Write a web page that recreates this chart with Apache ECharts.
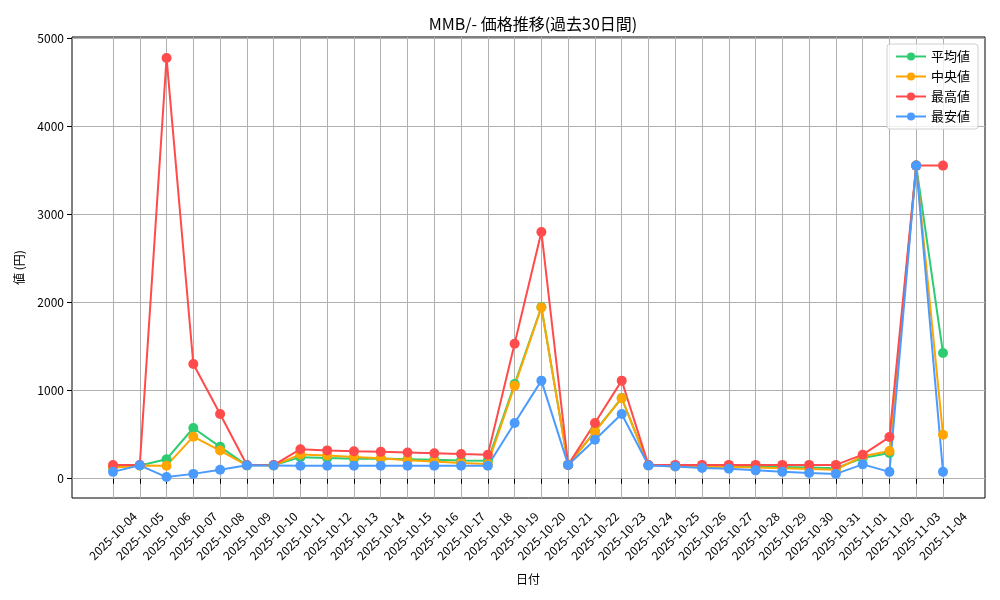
<!DOCTYPE html>
<html><head><meta charset="utf-8">
<script src="https://cdn.jsdelivr.net/npm/echarts@6/dist/echarts.min.js"></script>
<style>html,body{margin:0;padding:0;background:#fff}#c{width:1000px;height:600px}</style>
</head><body><div id="c"></div>
<script>
const dates = ['2025-10-04','2025-10-05','2025-10-06','2025-10-07','2025-10-08','2025-10-09','2025-10-10','2025-10-11','2025-10-12','2025-10-13','2025-10-14','2025-10-15','2025-10-16','2025-10-17','2025-10-18','2025-10-19','2025-10-20','2025-10-21','2025-10-22','2025-10-23','2025-10-24','2025-10-25','2025-10-26','2025-10-27','2025-10-28','2025-10-29','2025-10-30','2025-10-31','2025-11-01','2025-11-02','2025-11-03','2025-11-04'];
const avgValues = [130,150,222,576,362,152,152,245,236,228,230,222,215,208,203,1076,1951,157,538,917,152,148,142,140,136,132,127,120,235,292,3557,1428];
const medianValues = [125,150,148,478,320,152,152,276,263,246,232,210,197,180,167,1055,1945,157,535,915,152,140,136,132,127,118,110,102,256,315,3557,500];
const maxValues = [155,155,4780,1303,735,155,155,335,322,312,305,298,290,280,272,1534,2803,157,633,1114,155,157,157,157,157,157,157,157,273,473,3557,3557];
const minValues = [78,152,19,55,102,152,150,148,148,148,148,148,148,148,148,633,1114,157,443,735,150,138,121,113,95,78,64,55,163,78,3557,78];
const seriesNames = ['平均値','中央値','最高値','最安値'];
const colors = ['#2ecc71','#ffa500','#ff4b4b','#4b9bff'];
const yTicks = [0,1000,2000,3000,4000,5000];

const FONT = "'Noto Sans CJK JP', 'DejaVu Sans', sans-serif";
const YMIN = -219, YMAX = 5018;
const chart = echarts.init(document.getElementById('c'));
const mk = (name, data, color) => ({
  name, type: 'line', data, xAxisIndex: 1, yAxisIndex: 1,
  symbol: 'circle', symbolSize: 10, showSymbol: true,
  lineStyle: { color, width: 2 }, itemStyle: { color },
  emphasis: { disabled: true }, animation: false
});
chart.setOption({
  animation: false,
  textStyle: { fontFamily: FONT },
  title: {
    text: 'MMB/- 価格推移(過去30日間)', left: 528, top: 11, textAlign: 'center',
    textStyle: { fontFamily: FONT, fontSize: 16, fontWeight: 'normal', color: '#000' }
  },
  legend: {
    data: seriesNames, orient: 'vertical', right: 22, top: 44,
    itemWidth: 30, itemHeight: 10, itemGap: 7,
    padding: [6, 8, 6, 8],
    backgroundColor: 'rgba(255,255,255,0.8)', borderColor: '#d0d0d0', borderWidth: 1, borderRadius: 3,
    textStyle: { fontFamily: FONT, fontSize: 13, color: '#000' }
  },
  grid: [
    { left: 72, right: 15, top: 37, bottom: 102, show: true, borderColor: '#000', borderWidth: 1, backgroundColor: '#fff' },
    { left: 113, right: 57, top: 37, bottom: 102 }
  ],
  xAxis: [
    { type: 'value', gridIndex: 0, show: false, min: 0, max: 1 },
    { type: 'category', gridIndex: 1, data: dates, boundaryGap: false,
      name: '日付', nameLocation: 'middle', nameGap: 75,
      nameTextStyle: { fontFamily: FONT, fontSize: 12, color: '#000' },
      axisLine: { show: false },
      axisTick: { show: true, length: 5, interval: 0, lineStyle: { color: '#000' } },
      axisLabel: { rotate: 45, interval: 0, fontSize: 12, color: '#000', margin: 38, fontFamily: FONT,
        align: 'center', verticalAlign: 'middle' },
      splitLine: { show: true, interval: 0, lineStyle: { color: '#b0b0b0', width: 1 } }
    }
  ],
  yAxis: [
    { type: 'value', gridIndex: 0, min: YMIN, max: YMAX,
      name: '値 (円)', nameLocation: 'middle', nameGap: 47,
      nameTextStyle: { fontFamily: FONT, fontSize: 12, color: '#000' },
      axisLine: { show: false },
      axisTick: { show: true, length: 5, customValues: yTicks, lineStyle: { color: '#000' } },
      axisLabel: { fontSize: 12, color: '#000', margin: 8, fontFamily: FONT, customValues: yTicks,
        formatter: v => String(v) },
      splitLine: { show: true, lineStyle: { color: '#b0b0b0', width: 1 } }
    },
    { type: 'value', gridIndex: 1, min: YMIN, max: YMAX, show: false, splitLine: { show: false } }
  ],
  series: [
    mk(seriesNames[0], avgValues, colors[0]),
    mk(seriesNames[1], medianValues, colors[1]),
    mk(seriesNames[2], maxValues, colors[2]),
    mk(seriesNames[3], minValues, colors[3])
  ]
});
</script></body></html>
